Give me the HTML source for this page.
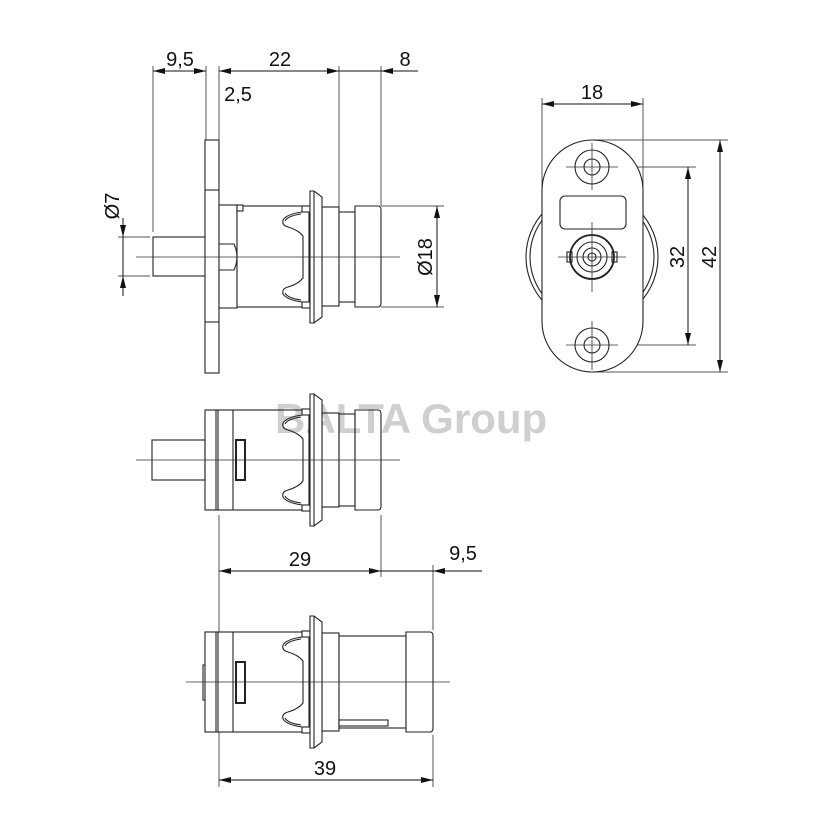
<!DOCTYPE html>
<html><head><meta charset="utf-8"><style>
html,body{margin:0;padding:0;background:#fff}
svg{display:block}
text{font-family:"Liberation Sans",sans-serif;fill:#111}
</style></head><body>
<svg width="830" height="830" viewBox="0 0 830 830" xmlns="http://www.w3.org/2000/svg">
<defs>
<marker id="a" viewBox="0 0 12 6" refX="12" refY="3" markerWidth="12" markerHeight="6" orient="auto-start-reverse" markerUnits="userSpaceOnUse"><path d="M0,0 L12,3 L0,6Z" fill="#111"/></marker>
<g id="clip" fill="none" stroke="#222" stroke-width="1.1">
<rect x="-8" y="-51" width="8" height="6" fill="#fff"/>
<rect x="-8" y="45" width="8" height="6" fill="#fff"/>
<path d="M-8,-45 C-15,-44 -24,-42 -27,-37 C-28,-33 -26,-31 -22,-30 C-15,-28 -10,-25 -7,-21 L-7,21 C-10,25 -15,28 -22,30 C-26,31 -28,33 -27,37 C-24,42 -15,44 -8,45"/>
<path d="M-9,-43 C-16,-42 -23,-40 -25,-36" />
<path d="M-9,43 C-16,42 -23,40 -25,36" />
<path d="M0,-66 L4,-66 L12,-60 L12,60 L4,66 L0,66 Z" fill="#fff"/>
<line x1="4" y1="-66" x2="4" y2="66"/>
</g>
</defs>

<text x="275" y="433" font-size="42" font-weight="bold" style="fill:#cfcfcf">BALTA Group</text>

<g stroke="#555" stroke-width="1" fill="none">
<line x1="153" y1="66" x2="153" y2="232"/>
<line x1="206" y1="66" x2="206" y2="140"/>
<line x1="219" y1="66" x2="219" y2="140"/>
<line x1="339" y1="66" x2="339" y2="207"/>
<line x1="381" y1="66" x2="381" y2="206"/>
<line x1="381" y1="206" x2="444" y2="206"/>
<line x1="381" y1="307" x2="444" y2="307"/>
<line x1="118" y1="237" x2="150" y2="237"/>
<line x1="118" y1="276" x2="150" y2="276"/>
</g>
<g stroke="#111" stroke-width="1" fill="none">
<line x1="153" y1="71" x2="206" y2="71" marker-start="url(#a)" marker-end="url(#a)"/>
<line x1="219" y1="71" x2="339" y2="71" marker-start="url(#a)" marker-end="url(#a)"/>
<line x1="339" y1="71" x2="381" y2="71"/>
<line x1="418" y1="71" x2="381" y2="71" marker-end="url(#a)"/>
<line x1="437" y1="206" x2="437" y2="307" marker-start="url(#a)" marker-end="url(#a)"/>
<line x1="123" y1="218" x2="123" y2="237" marker-end="url(#a)"/>
<line x1="123" y1="296" x2="123" y2="276" marker-end="url(#a)"/>
<line x1="123" y1="237" x2="123" y2="276"/>
</g>
<text x="180" y="66" font-size="20" text-anchor="middle">9,5</text>
<text x="280" y="66" font-size="20" text-anchor="middle">22</text>
<text x="405" y="66" font-size="20" text-anchor="middle">8</text>
<text x="238" y="101" font-size="20" text-anchor="middle">2,5</text>
<text transform="translate(119,206) rotate(-90)" font-size="20" text-anchor="middle">Ø7</text>
<text transform="translate(432,257) rotate(-90)" font-size="20" text-anchor="middle">Ø18</text>

<!-- TOP VIEW -->
<g stroke="#222" stroke-width="1.1" fill="#fff">
<rect x="153" y="237" width="53" height="39"/>
<rect x="205" y="140" width="14" height="233"/>
<line x1="205" y1="190" x2="219" y2="190"/>
<line x1="205" y1="322" x2="219" y2="322"/>
<rect x="219" y="205" width="18" height="103"/>
<path d="M219,244 L234,244 Q240,257 234,270 L219,270" fill="none"/>
<rect x="237" y="206" width="72" height="101"/>
<rect x="237" y="205" width="6" height="6"/>
<rect x="322" y="207" width="17" height="99"/>
<rect x="339" y="212" width="16" height="90"/>
<path d="M355,206 L378,206 Q381,206 381,210 L381,303 Q381,307 378,307 L355,307 Z"/>
</g>
<use href="#clip" x="310" y="257"/>
<line x1="136" y1="257" x2="400" y2="257" stroke="#333" stroke-width="0.8"/>

<!-- MIDDLE VIEW -->
<g stroke="#222" stroke-width="1.1" fill="none">
<rect x="152" y="440" width="53" height="40" fill="#fff"/>
<rect x="205" y="410" width="104" height="100"/>
<line x1="216" y1="410" x2="216" y2="510"/>
<line x1="218" y1="410" x2="218" y2="510"/>
<line x1="233" y1="410" x2="233" y2="510"/>
<rect x="236" y="440" width="9" height="40" stroke-width="2"/>
<rect x="322" y="413" width="17" height="94"/>
<rect x="339" y="414" width="16" height="92"/>
<path d="M355,410 L378,410 Q381,410 381,414 L381,506 Q381,510 378,510 L355,510 Z"/>
</g>
<use href="#clip" x="310" y="460"/>
<line x1="136" y1="460" x2="400" y2="460" stroke="#333" stroke-width="0.8"/>

<g stroke="#555" stroke-width="1" fill="none">
<line x1="219" y1="515" x2="219" y2="787"/>
<line x1="381" y1="515" x2="381" y2="577"/>
<line x1="433" y1="565" x2="433" y2="630"/>
<line x1="433" y1="735" x2="433" y2="787"/>
</g>
<g stroke="#111" stroke-width="1" fill="none">
<line x1="219" y1="571" x2="381" y2="571" marker-start="url(#a)" marker-end="url(#a)"/>
<line x1="381" y1="571" x2="433" y2="571"/>
<line x1="482" y1="571" x2="433" y2="571" marker-end="url(#a)"/>
<line x1="219" y1="780" x2="433" y2="780" marker-start="url(#a)" marker-end="url(#a)"/>
</g>
<text x="300" y="566" font-size="20" text-anchor="middle">29</text>
<text x="463" y="560" font-size="20" text-anchor="middle">9,5</text>
<text x="325" y="775" font-size="20" text-anchor="middle">39</text>

<!-- BOTTOM VIEW -->
<g stroke="#222" stroke-width="1.1" fill="#fff">
<rect x="203" y="665" width="3" height="35"/>
<rect x="205" y="632" width="104" height="100"/>
<line x1="216" y1="632" x2="216" y2="732"/>
<line x1="218" y1="632" x2="218" y2="732"/>
<line x1="233" y1="632" x2="233" y2="732"/>
<rect x="236" y="662" width="9" height="41" stroke-width="2"/>
<rect x="322" y="633" width="17" height="98"/>
<rect x="339" y="636" width="67" height="92"/>
<path d="M406,632 L430,632 Q433,632 433,636 L433,728 Q433,732 430,732 L406,732 Z"/>
<rect x="339" y="720" width="49" height="6"/>
</g>
<use href="#clip" x="310" y="682"/>
<line x1="186" y1="682" x2="450" y2="682" stroke="#333" stroke-width="0.8"/>

<!-- RIGHT VIEW -->
<g stroke="#555" stroke-width="1" fill="none">
<line x1="542" y1="98" x2="542" y2="200"/>
<line x1="643" y1="98" x2="643" y2="200"/>
<line x1="592" y1="140" x2="728" y2="140"/>
<line x1="592" y1="372" x2="728" y2="372"/>
<line x1="630" y1="167" x2="696" y2="167"/>
<line x1="630" y1="345" x2="696" y2="345"/>
</g>
<g stroke="#111" stroke-width="1" fill="none">
<line x1="542" y1="104" x2="643" y2="104" marker-start="url(#a)" marker-end="url(#a)"/>
<line x1="688" y1="167" x2="688" y2="345" marker-start="url(#a)" marker-end="url(#a)"/>
<line x1="720" y1="140" x2="720" y2="372" marker-start="url(#a)" marker-end="url(#a)"/>
</g>
<text x="592" y="99" font-size="20" text-anchor="middle">18</text>
<text transform="translate(684,257) rotate(-90)" font-size="20" text-anchor="middle">32</text>
<text transform="translate(716,257) rotate(-90)" font-size="20" text-anchor="middle">42</text>

<g stroke="#222" stroke-width="1.1" fill="none">
<circle cx="592" cy="257" r="66"/>
<circle cx="592" cy="257" r="62"/>
<rect x="542" y="140" width="101" height="232" rx="50.5" fill="#fff"/>
<circle cx="592" cy="167" r="17"/>
<circle cx="592" cy="167" r="8"/>
<circle cx="592" cy="345" r="17"/>
<circle cx="592" cy="345" r="8"/>
<rect x="560" y="196" width="66" height="33" rx="5"/>
<circle cx="592" cy="257" r="22" stroke-width="1.8"/>
<circle cx="592" cy="257" r="15"/>
<circle cx="592" cy="257" r="9"/>
<circle cx="592" cy="257" r="4"/>
<rect x="567" y="252" width="5" height="10"/>
<rect x="612" y="252" width="5" height="10"/>
</g>
<g stroke="#333" stroke-width="0.8">
<line x1="566" y1="167" x2="618" y2="167"/><line x1="592" y1="143" x2="592" y2="190"/>
<line x1="566" y1="345" x2="618" y2="345"/><line x1="592" y1="321" x2="592" y2="370"/>
<line x1="558" y1="257" x2="626" y2="257"/><line x1="592" y1="222" x2="592" y2="292"/>
</g>
</svg>
</body></html>
